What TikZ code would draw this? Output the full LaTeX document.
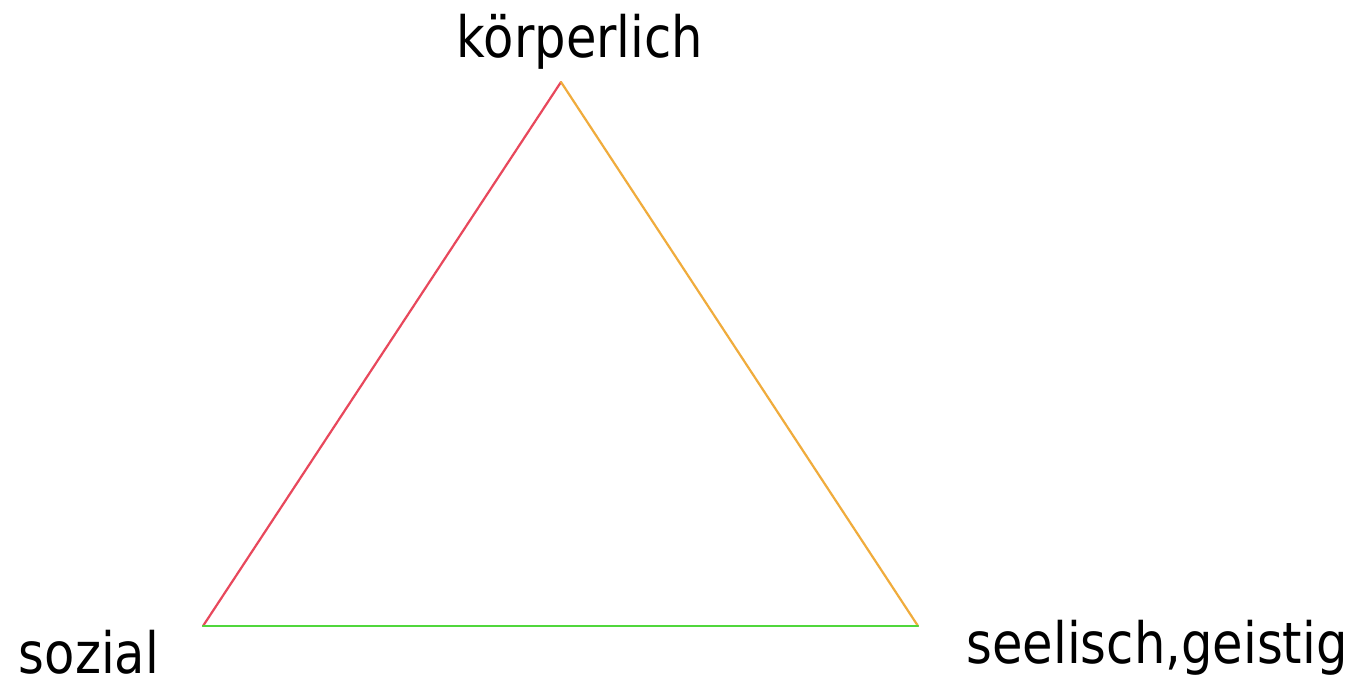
\documentclass[tikz,border=0pt]{standalone}
\usepackage{fontspec}
\setmainfont{DejaVu Sans}
\definecolor{edgered}{RGB}{232,72,92}
\definecolor{edgeorange}{RGB}{240,172,60}
\definecolor{edgegreen}{RGB}{80,215,60}
\tikzset{
  lbl/.style={anchor=base, inner sep=0pt, font=\fontsize{57}{60}\selectfont, text=black},
  edge/.style={line width=2.2pt, line cap=round, line join=round}
}
\newcommand{\nar}[1]{\scalebox{0.87}[1]{#1}}
\begin{document}
\begin{tikzpicture}[x=1pt,y=-1pt]
\useasboundingbox (0,0) rectangle (1362,681);
\fill[white] (0,0) rectangle (1362,681);
\coordinate (top) at (561,82);
\coordinate (left) at (203,626);
\coordinate (right) at (918,626);
\draw[edge, edgered] (left) -- (top);
\draw[edge, edgeorange] (top) -- (right);
\draw[edge, edgegreen] (left) -- (right);
\node[lbl] (k) at (580,57) {\nar{körperlich}};
\node[lbl] (s) at (89,673) {\nar{sozial}};
\node[lbl] (g) at (1157,663) {\nar{seelisch,geistig}};
\end{tikzpicture}
\end{document}
